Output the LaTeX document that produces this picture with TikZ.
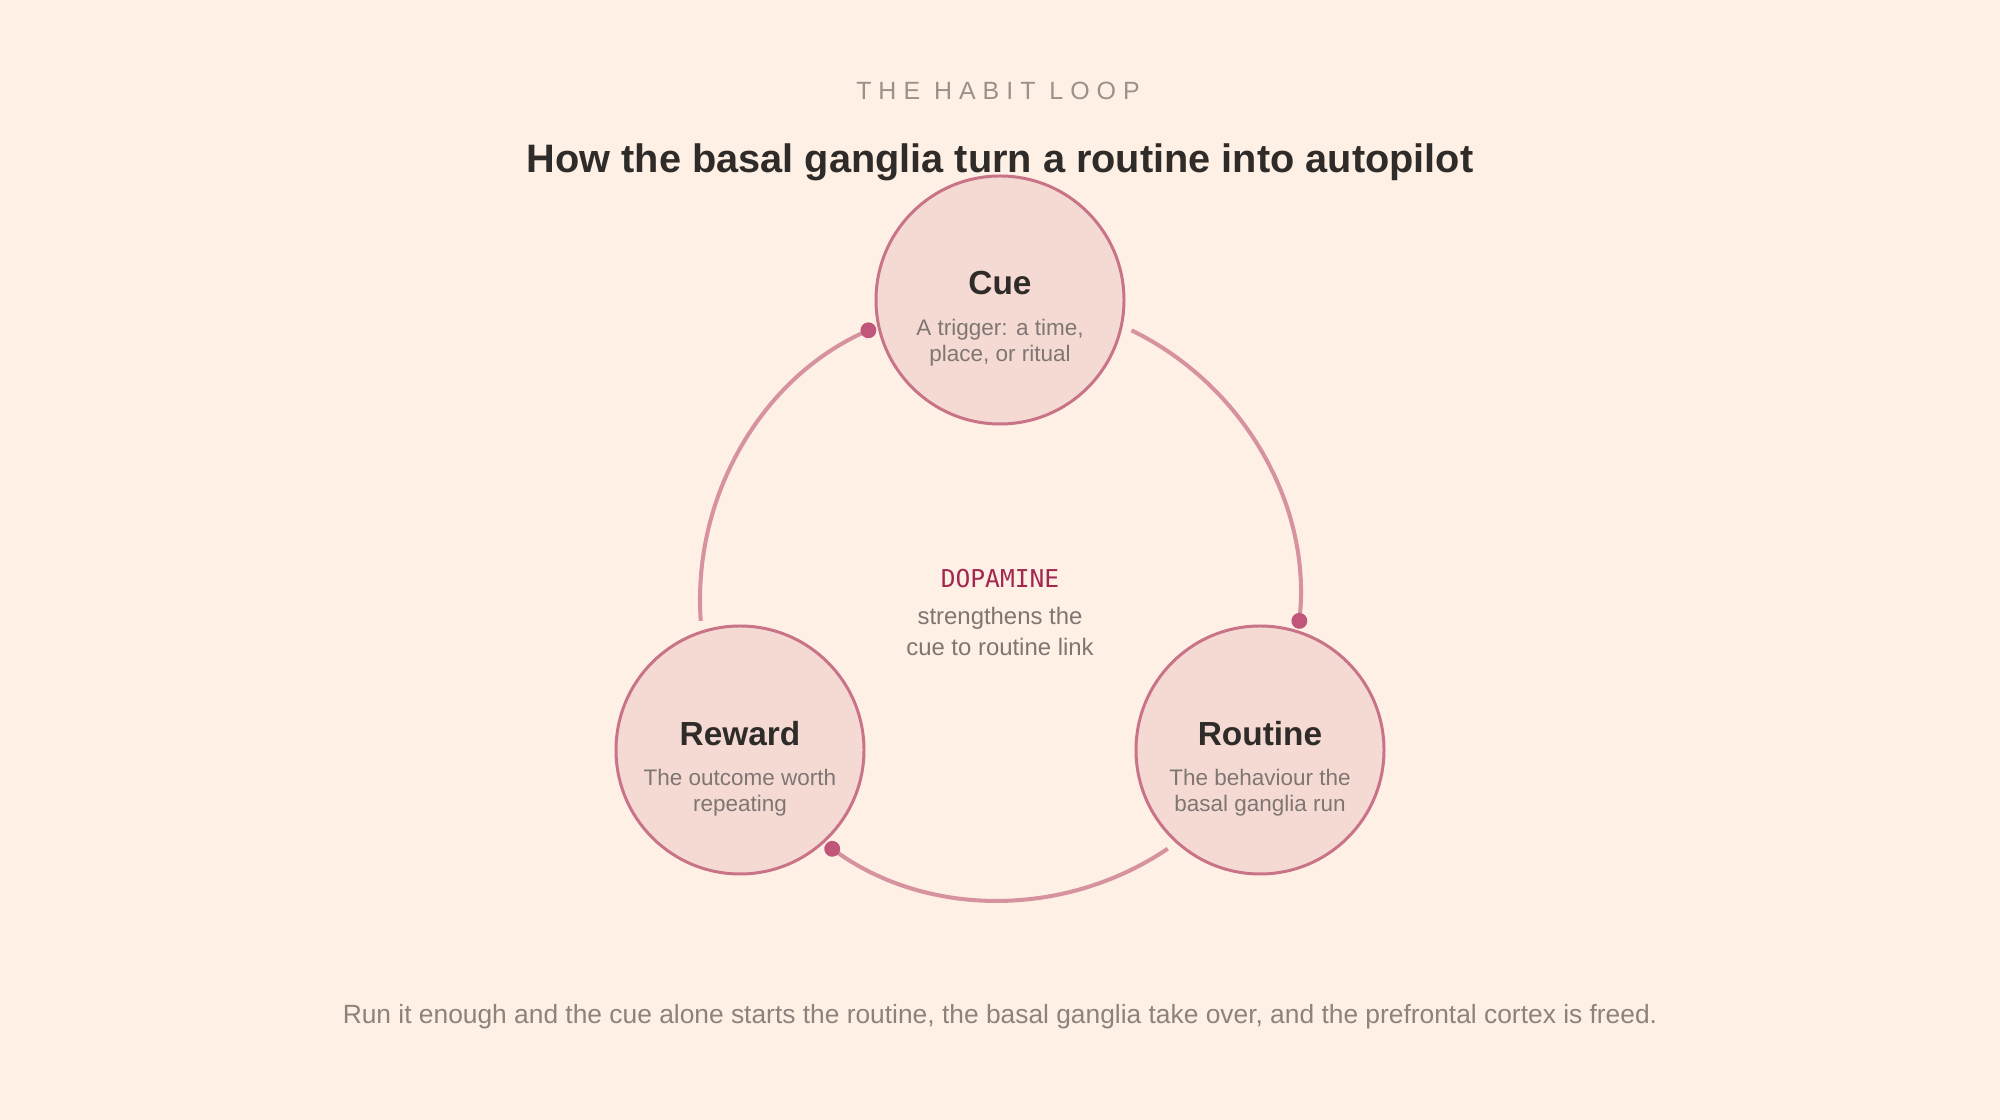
\documentclass[tikz,border=0pt]{standalone}
\usepackage{fontspec}
\setmainfont{Liberation Sans}
\setmonofont{DejaVu Sans Mono}
\usetikzlibrary{arrows.meta, positioning}
\definecolor{paper}{HTML}{FFF0E6}
\definecolor{stagefill}{HTML}{F5DAD4}
\definecolor{stageline}{HTML}{C97389}
\definecolor{loopcol}{HTML}{D6939F}
\definecolor{dotcol}{HTML}{C0577A}
\definecolor{ink}{HTML}{2E2B28}
\definecolor{muted}{HTML}{7F7671}
\definecolor{softgray}{HTML}{9A918A}
\definecolor{crimson}{HTML}{A3284F}
\tikzset{
  stage/.style={circle,draw=stageline,fill=stagefill,line width=0.85pt,
    minimum size=2.48cm,inner sep=0pt},
  stagename/.style={anchor=base,text=ink,font=\fontsize{9.5}{11}\selectfont\bfseries},
  stagenote/.style={anchor=base,text=muted,align=center,
    font=\fontsize{6.4}{7.4}\selectfont},
  loopline/.style={-{Circle[length=4.5pt,color=dotcol]},line width=1.15pt,loopcol},
}
\begin{document}
\begin{tikzpicture}
  \useasboundingbox[fill=paper] (0,0) rectangle (20,11.2);
  % heading
  \node[anchor=base,text=softgray,
    font=\fontsize{7.1}{9}\selectfont\addfontfeature{LetterSpace=28}] (kicker) at (9.98,10.2)
    {THE HABIT LOOP};
  \node[anchor=base,text=ink,font=\fontsize{11.3}{13}\selectfont\bfseries] (headline) at (10,9.47)
    {How the basal ganglia turn a routine into autopilot};
  % the three stages
  \coordinate (loop) at (10,5.2);
  \node[stage] (cue) at (10,8.2) {};
  \node[stage] (reward) at (7.4,3.7) {};
  \node[stage] (routine) at (12.6,3.7) {};
  % (multi-line notes sit on the baseline of their last line)
  \node[stagename] (cuename) at ([yshift=0.05cm]cue.center) {Cue};
  \node[stagenote] (cuenote) at ([yshift=-0.62cm]cue.center) {A trigger: a time,\\place, or ritual};
  \node[stagename] (rewardname) at ([yshift=0.04cm]reward.center) {Reward};
  \node[stagenote] (rewardnote) at ([yshift=-0.62cm]reward.center) {The outcome worth\\repeating};
  \node[stagename] (routinename) at ([yshift=0.04cm]routine.center) {Routine};
  \node[stagenote] (routinenote) at ([yshift=-0.62cm]routine.center) {The behaviour the\\basal ganglia run};
  % loop arcs
  \draw[loopline] ([shift={(64:3)}]loop) arc[start angle=64,end angle=-5.5,radius=3];
  \draw[loopline] ([shift={(-56:3)}]loop) arc[start angle=-56,end angle=-125.5,radius=3];
  \draw[loopline] ([shift={(184:3)}]loop) arc[start angle=184,end angle=114.5,radius=3];
  % centre note
  \node[anchor=base,text=crimson,font=\ttfamily\fontsize{7}{9}\selectfont] (dopa) at (10,5.32) {DOPAMINE};
  \node[anchor=base,text=muted,align=center,font=\fontsize{6.8}{9.07}\selectfont] (dopanote) at (10,4.64)
    {strengthens the\\cue to routine link};
  % caption
  \node[anchor=base,text=softgray!90!black,font=\fontsize{7.5}{9}\selectfont] (caption) at (10,0.96)
    {Run it enough and the cue alone starts the routine, the basal ganglia take over, and the prefrontal cortex is freed.};
\end{tikzpicture}
\end{document}
